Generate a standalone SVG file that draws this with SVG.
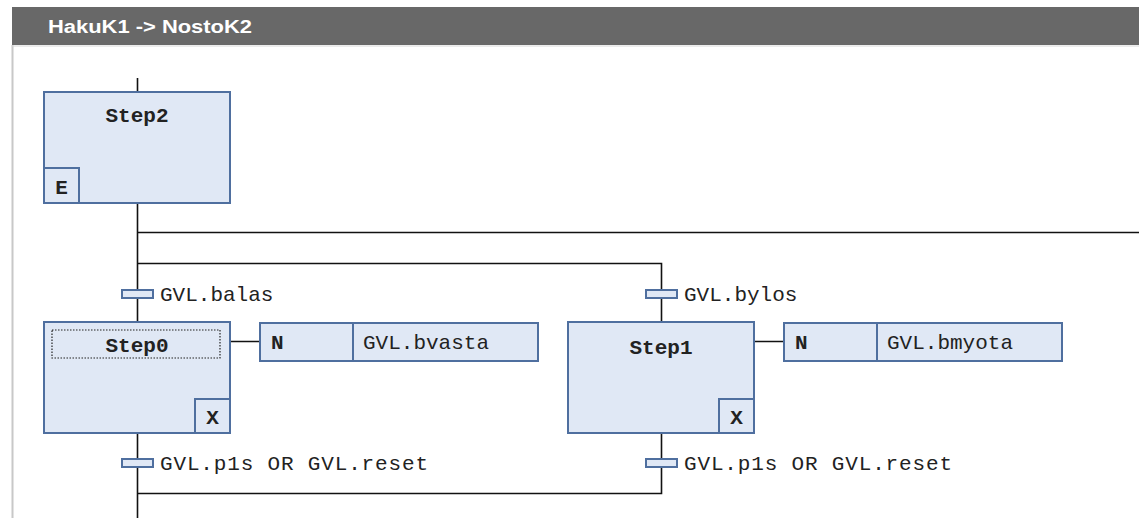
<svg xmlns="http://www.w3.org/2000/svg" width="1139" height="518" viewBox="0 0 1139 518">
<style>
.box{fill:#e0e8f5;stroke:#4f6f9f;stroke-width:2}
.tr{fill:#e0e8f5;stroke:#4f6f9f;stroke-width:2}
.ln{stroke:#111;stroke-width:1.6;fill:none}
.nm{font-family:"Liberation Mono",monospace;font-weight:bold;font-size:21px;fill:#222}
.tx{font-family:"Liberation Mono",monospace;font-size:21px;fill:#222}
</style>
<rect x="0" y="0" width="1139" height="518" fill="#ffffff"/>
<rect x="12" y="7" width="1127" height="38" fill="#686868"/>
<line x1="12.5" y1="45" x2="12.5" y2="518" stroke="#c8c8c8" stroke-width="2"/>
<line x1="12" y1="46" x2="1139" y2="46" stroke="#d8d8d8" stroke-width="1"/>
<text x="48" y="33" font-family="Liberation Sans,Arial,sans-serif" font-weight="bold" font-size="18" fill="#ffffff" textLength="204" lengthAdjust="spacingAndGlyphs">HakuK1 -&gt; NostoK2</text>
<g id="connectors">
<path class="ln" d="M137.5 78V92M137.5 203V322M137.5 232.5H1139M137.5 263.5H661.5V322M137.5 433V518M661.5 433V493.5H137.5M230 341.5H260M754 341.5H784"/>
</g>
<g id="step2">
<rect class="box" x="44" y="92" width="186" height="111"/>
<rect class="box" x="44" y="168" width="35" height="35"/>
<text class="nm" x="137" y="122" text-anchor="middle">Step2</text>
<text class="nm" x="61.5" y="194" text-anchor="middle">E</text>
</g>
<g id="t-balas">
<rect class="tr" x="122" y="290" width="31" height="8"/>
<text class="tx" x="160" y="301">GVL.balas</text>
</g>
<g id="t-bylos">
<rect class="tr" x="646" y="290" width="31" height="8"/>
<text class="tx" x="684" y="301">GVL.bylos</text>
</g>
<g id="step0">
<rect class="box" x="44" y="322" width="186" height="111"/>
<rect x="52" y="330" width="168" height="28" fill="none" stroke="#222" stroke-width="1.2" stroke-dasharray="1.5 1.5"/>
<rect class="box" x="195" y="399" width="35" height="34"/>
<text class="nm" x="137" y="352" text-anchor="middle">Step0</text>
<text class="nm" x="212.5" y="424" text-anchor="middle">X</text>
</g>
<g id="action0">
<rect class="box" x="260" y="323" width="278" height="38"/>
<line x1="353" y1="323" x2="353" y2="361" stroke="#4f6f9f" stroke-width="2"/>
<text class="nm" x="271" y="349">N</text>
<text class="tx" x="363" y="349">GVL.bvasta</text>
</g>
<g id="step1">
<rect class="box" x="568" y="322" width="186" height="111"/>
<rect class="box" x="719" y="399" width="35" height="34"/>
<text class="nm" x="661" y="354" text-anchor="middle">Step1</text>
<text class="nm" x="736.5" y="424" text-anchor="middle">X</text>
</g>
<g id="action1">
<rect class="box" x="784" y="323" width="278" height="38"/>
<line x1="877" y1="323" x2="877" y2="361" stroke="#4f6f9f" stroke-width="2"/>
<text class="nm" x="795" y="349">N</text>
<text class="tx" x="887" y="349">GVL.bmyota</text>
</g>
<g id="t-reset0">
<rect class="tr" x="122" y="459" width="31" height="8"/>
<text class="tx" x="160" y="470" textLength="268">GVL.p1s OR GVL.reset</text>
</g>
<g id="t-reset1">
<rect class="tr" x="646" y="459" width="31" height="8"/>
<text class="tx" x="684" y="470" textLength="268">GVL.p1s OR GVL.reset</text>
</g>
</svg>
